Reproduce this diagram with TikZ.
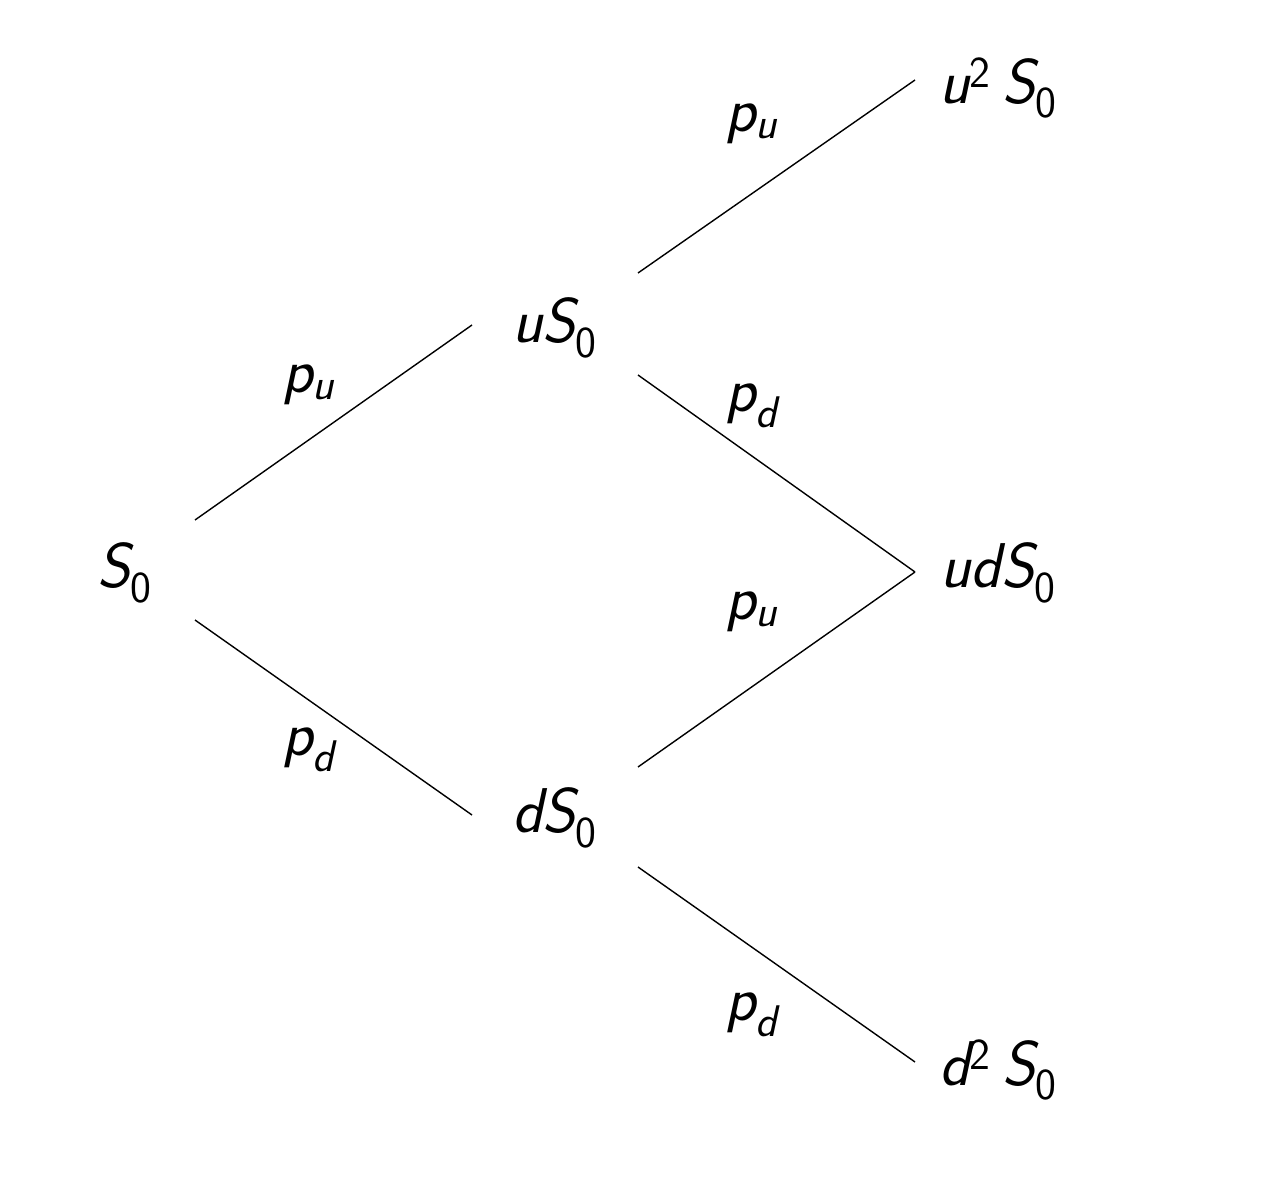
\documentclass[tikz,border=0pt]{standalone}
\usepackage{fontspec}
\usetikzlibrary{calc}
\newcommand{\tv}[1]{{\sffamily\itshape #1}}
\newcommand{\tsub}[1]{\textsubscript{\sffamily\upshape #1}}
\newcommand{\tsup}[1]{\textsuperscript{\sffamily\upshape #1}}
\begin{document}
\begin{tikzpicture}[
       state/.style={font=\fontsize{36}{42}\selectfont},
       prob/.style={font=\fontsize{36}{42}\selectfont},
       branch/.style={thick, black}
   ]
   \useasboundingbox (0,0) rectangle (25.36,-23.56);
   \node[state] (s0) at (2.5,-11.46) {\tv{S}\tsub{0}};
   \node[state] (us0) at (11.1,-6.56) {\tv{uS}\tsub{0}};
   \node[state] (ds0) at (11.1,-16.36) {\tv{dS}\tsub{0}};
   \node[state] (uus0) at (19.96,-1.76) {\tv{u}\tsup{2}\,\tv{S}\tsub{0}};
   \node[state] (uds0) at (19.96,-11.46) {\tv{udS}\tsub{0}};
   \node[state] (dds0) at (19.96,-21.4) {\tv{d}\tsup{2}\,\tv{S}\tsub{0}};

   \draw[branch] ($(s0)+(1.4,1.06)$) -- node[prob, xshift=-0.5cm, yshift=0.75cm] (pu1) {\tv{p}\tsub{\itshape u}} ($(us0)+(-1.66,0.06)$);
   \draw[branch] ($(s0)+(1.4,-0.94)$) -- node[prob, xshift=-0.5cm, yshift=-0.65cm] (pd1) {\tv{p}\tsub{\itshape d}} ($(ds0)+(-1.66,0.06)$);
   \draw[branch] ($(us0)+(1.66,1.1)$) -- node[prob, xshift=-0.5cm, yshift=1.05cm] (pu2) {\tv{p}\tsub{\itshape u}} ($(uus0)+(-1.66,0.16)$);
   \draw[branch] ($(us0)+(1.66,-0.94)$) -- node[prob, xshift=-0.5cm, yshift=1.35cm] (pd2) {\tv{p}\tsub{\itshape d}} ($(uds0)+(-1.66,0.02)$);
   \draw[branch] ($(ds0)+(1.66,1.02)$) -- node[prob, xshift=-0.5cm, yshift=1.15cm] (pu3) {\tv{p}\tsub{\itshape u}} ($(uds0)+(-1.66,0.02)$);
   \draw[branch] ($(ds0)+(1.66,-0.98)$) -- node[prob, xshift=-0.5cm, yshift=-1.0cm] (pd3) {\tv{p}\tsub{\itshape d}} ($(dds0)+(-1.66,0.16)$);
\end{tikzpicture}
\end{document}
